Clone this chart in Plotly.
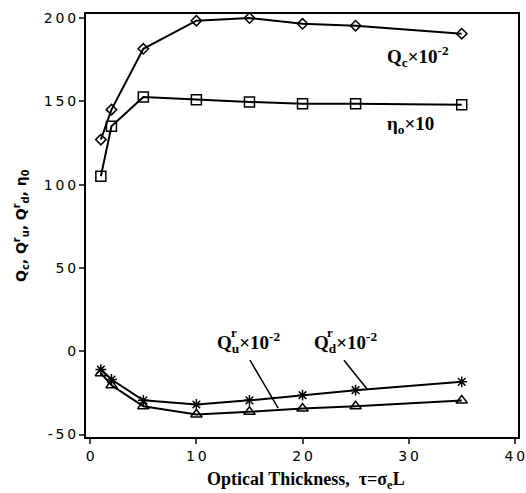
import plotly.graph_objects as go

tau = [1, 2, 5, 10, 15, 20, 25, 35]
qc = [127, 145, 181.5, 198.4, 200, 196.5, 195.4, 190.6]
eta = [105, 135, 152.6, 151, 149.6, 148.6, 148.6, 148]
qd = [-11, -17, -29.5, -32, -29.5, -26.4, -23.4, -18.4]
qu = [-13.2, -20.5, -33, -38, -36.4, -34.4, -33, -29.6]

xticks = [0, 10, 20, 30, 40]
yticks = [-50, 0, 50, 100, 150, 200]
sp = "\u2009"
xticktext = [sp.join(str(v)) for v in xticks]
yticktext = [sp.join(str(v)) for v in yticks]

W, H = 526, 493
ML, MR, MT, MB = 86, 8, 14, 56
PW, PH = W - ML - MR, H - MT - MB


def px2paper(px, py):
    return ((px - ML) / PW, (H - MB - py) / PH)


fig = go.Figure()
common_line = dict(color="black", width=2)

fig.add_trace(go.Scatter(x=tau, y=qc, mode="lines+markers", line=common_line,
                         marker=dict(symbol="diamond-open", size=8, color="black", line=dict(width=1.5))))
fig.add_trace(go.Scatter(x=tau, y=eta, mode="lines+markers", line=common_line,
                         marker=dict(symbol="square-open", size=10, color="black", line=dict(width=1.5))))
fig.add_trace(go.Scatter(x=tau, y=qd, mode="lines+markers", line=common_line,
                         marker=dict(symbol="asterisk-open", size=9, color="black", line=dict(width=1.5))))
fig.add_trace(go.Scatter(x=tau, y=qu, mode="lines+markers", line=common_line,
                         marker=dict(symbol="triangle-up-open", size=10, color="black", line=dict(width=1.5))))

lab_font = dict(family="Liberation Serif", size=19, color="black")
r_font = dict(family="Liberation Serif", size=13, color="black")
ann = []
ann.append(dict(x=27.8, y=176.6, xanchor="left", text="<b>Q<sub>c</sub>×10<sup>-2</sup></b>",
                showarrow=False, font=lab_font))
ann.append(dict(x=27.8, y=135.5, xanchor="left", text="<b>η<sub>o</sub>×10</b>",
                showarrow=False, font=lab_font))
ann.append(dict(x=11.8, y=5.5, xanchor="left", text="<b>Q<sub>u</sub>×10<sup>-2</sup></b>",
                showarrow=False, font=lab_font))
ann.append(dict(x=13.5, y=11.5, text="<b>r</b>", showarrow=False, font=r_font))
ann.append(dict(x=20.9, y=5.5, xanchor="left", text="<b>Q<sub>d</sub>×10<sup>-2</sup></b>",
                showarrow=False, font=lab_font))
ann.append(dict(x=22.6, y=11.5, text="<b>r</b>", showarrow=False, font=r_font))

xt = px2paper(306, 481)
ann.append(dict(x=xt[0], y=xt[1], xref="paper", yref="paper", xanchor="center", yanchor="middle",
                text="<b>Optical Thickness,  τ=σ<sub>e</sub>L</b>", showarrow=False,
                font=dict(family="Liberation Serif", size=18, color="black")))
yt = px2paper(21, 226)
ann.append(dict(x=yt[0], y=yt[1], xref="paper", yref="paper", xanchor="center", yanchor="middle",
                textangle=-90,
                text="<b>Q<sub>c</sub>, Q<sup>r</sup><sub>u</sub>, Q<sup>r</sup><sub>d</sub>, η<sub>0</sub></b>",
                showarrow=False, font=dict(family="DejaVu Sans", size=14, color="black")))
fig.update_layout(annotations=ann)

fig.add_shape(type="line", x0=15.05, y0=-5.4, x1=17.7, y1=-34.2, line=dict(color="black", width=1.5))
fig.add_shape(type="line", x0=23.9, y0=-5.4, x1=26.1, y1=-22.8, line=dict(color="black", width=1.5))

tick_font = dict(family="DejaVu Sans", size=14, color="black")
fig.update_xaxes(range=[-0.4, 40.3], tickvals=xticks, ticktext=xticktext, ticks="outside", ticklen=5, tickwidth=1.5,
                 showline=True, linecolor="black", linewidth=2, mirror=True, showgrid=False, zeroline=False,
                 tickfont=tick_font, automargin=False)
fig.update_yaxes(range=[-51.5, 202.4], tickvals=yticks, ticktext=yticktext, ticks="outside", ticklen=5, tickwidth=1.5,
                 showline=True, linecolor="black", linewidth=2, mirror=True, showgrid=False, zeroline=False,
                 tickfont=tick_font, automargin=False)

fig.update_layout(width=W, height=H, margin=dict(l=ML, r=MR, t=MT, b=MB),
                  plot_bgcolor="white", paper_bgcolor="white", showlegend=False)

fig.write_html("out.html", config={"displayModeBar": False},
               post_script="document.body.style.margin='0';document.body.style.overflow='hidden';")
